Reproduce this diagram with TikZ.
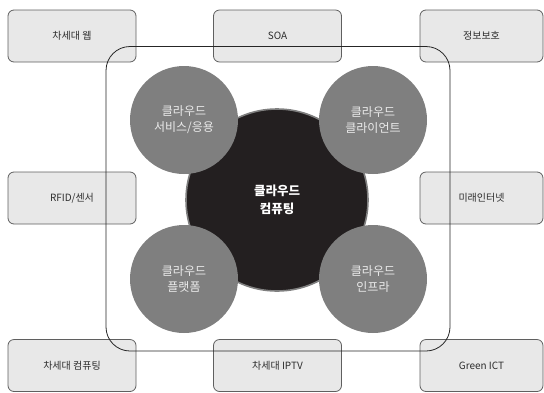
\documentclass[tikz,border=0pt]{standalone}
\usepackage{fontspec}
\setmainfont{Noto Sans CJK KR}
\definecolor{boxfill}{RGB}{232,232,232}
\definecolor{boxline}{RGB}{95,95,95}
\definecolor{boxtext}{RGB}{45,45,45}
\definecolor{circgray}{RGB}{127,127,127}
\definecolor{circtext}{RGB}{235,235,235}
\definecolor{coreblack}{RGB}{35,31,32}
\begin{document}
\begin{tikzpicture}[x=1pt,y=-1pt,
  topicbox/.style={draw=boxline, line width=0.8pt, fill=boxfill, rounded corners=6pt,
    minimum width=128pt, minimum height=52pt, inner sep=0pt,
    text=boxtext, font=\fontsize{10}{12}\selectfont},
  rightbox/.style={topicbox, minimum width=123pt},
  subcirc/.style={circle, fill=circgray, minimum size=108pt, inner sep=0pt,
    text=circtext, align=center, font=\fontsize{12}{16}\selectfont},
  corecirc/.style={circle, fill=coreblack, draw=circgray, line width=1.6pt,
    minimum size=182pt, inner sep=0pt, text=white, align=center,
    font=\fontsize{12.5}{18}\selectfont\bfseries},
  frame/.style={draw=black!85, line width=0.8pt, rounded corners=24pt,
    minimum width=344pt, minimum height=304.5pt, inner sep=0pt}
]
\useasboundingbox (0,0) rectangle (544,392);
% outer boxes
\node[topicbox] (web)   at (72,36)    {차세대 웹};
\node[topicbox] (soa)   at (277.5,36) {SOA};
\node[rightbox] (sec)   at (481.5,36) {정보보호};
\node[topicbox] (rfid)  at (72,198)   {RFID/센서};
\node[rightbox] (fnet)  at (481.5,198) {미래인터넷};
\node[topicbox] (ncomp) at (72,365.5) {차세대 컴퓨팅};
\node[topicbox] (iptv)  at (277.5,365.5) {차세대 IPTV};
\node[rightbox] (gict)  at (481.5,365.5) {Green ICT};
% frame drawn over boxes
\node[frame] (fr) at (278,198.75) {};
% core and sub circles
\node[corecirc] (core) at (277,200) {클라우드\\컴퓨팅};
\node[subcirc] (svc)  at (184,120) {클라우드\\서비스/응용};
\node[subcirc] (cli)  at (373,120) {클라우드\\클라이언트};
\node[subcirc] (plat) at (184,279) {클라우드\\플랫폼};
\node[subcirc] (infra) at (373,279) {클라우드\\인프라};
\end{tikzpicture}
\end{document}
